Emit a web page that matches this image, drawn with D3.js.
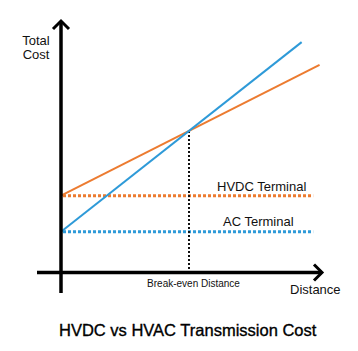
<!DOCTYPE html>
<html>
<head>
<meta charset="utf-8">
<script src="https://cdn.jsdelivr.net/npm/d3@7"></script>
<style>
    body { margin: 0; background: #fff; }
    text { font-family: "Liberation Sans", Arial, sans-serif; fill: #111; }
</style>
</head>
<body>
<div id="chart"></div>
<script>
// Cost curves (abstract units)
const acDistance = [0, 9.4];
const acCost = [1.7, 9.6];
const dcDistance = [0, 10.1];
const dcCost = [3.2, 8.65];

// terminal (fixed) costs, drawn as dotted lines
const terminalNames = ["HVDC Terminal", "AC Terminal"];
const terminalCost = [3.2, 1.7];
const terminalEnd = 9.85;

const breakEvenDistance = 5;
const breakEvenCost = 5.9;

const orange = "#ec7b30";
const blue = "#2e9ad8";

const width = 358, height = 351;

const svg = d3.select("#chart")
    .append("svg")
    .attr("width", width)
    .attr("height", height);

const x = d3.scaleLinear().domain([0, 10]).range([61, 317]);
const y = d3.scaleLinear().domain([0, 10]).range([272.5, 32.5]);

const line = d3.line()
    .x(d => x(d[0]))
    .y(d => y(d[1]));

// terminal cost dotted lines
svg.selectAll(".terminal")
    .data(terminalCost)
    .enter()
    .append("line")
    .attr("class", "terminal")
    .attr("x1", x(0) + 2)
    .attr("x2", x(terminalEnd))
    .attr("y1", d => y(d))
    .attr("y2", d => y(d))
    .attr("stroke", (d, i) => i == 0 ? orange : blue)
    .attr("stroke-width", 3)
    .attr("stroke-dasharray", "3,2");

// break-even marker
svg.append("line")
    .attr("x1", x(breakEvenDistance))
    .attr("x2", x(breakEvenDistance))
    .attr("y1", y(breakEvenCost))
    .attr("y2", y(0))
    .attr("stroke", "#111")
    .attr("stroke-width", 2)
    .attr("stroke-dasharray", "2,2");

// cost lines
svg.append("path")
    .datum(d3.zip(dcDistance, dcCost))
    .attr("d", line)
    .attr("fill", "none")
    .attr("stroke", orange)
    .attr("stroke-width", 2);

svg.append("path")
    .datum(d3.zip(acDistance, acCost))
    .attr("d", line)
    .attr("fill", "none")
    .attr("stroke", blue)
    .attr("stroke-width", 2);

// axes with open arrow heads
const axes = svg.append("g")
    .attr("stroke", "#000")
    .attr("stroke-width", 3.5)
    .attr("fill", "none");

axes.append("line")
    .attr("x1", x(0)).attr("x2", x(0))
    .attr("y1", 293).attr("y2", 21);
axes.append("path")
    .attr("stroke-width", 3)
    .attr("d", `M${x(0) - 8},${29} L${x(0)},${21} L${x(0) + 8},${29}`);

axes.append("line")
    .attr("x1", 37).attr("x2", 322)
    .attr("y1", y(0)).attr("y2", y(0));
axes.append("path")
    .attr("stroke-width", 3)
    .attr("d", `M${314},${y(0) - 8} L${322},${y(0)} L${314},${y(0) + 8}`);

// labels
svg.append("text")
    .attr("x", 36).attr("y", 44.5)
    .attr("text-anchor", "middle")
    .style("font-size", "13px")
    .text("Total");
svg.append("text")
    .attr("x", 36).attr("y", 59)
    .attr("text-anchor", "middle")
    .style("font-size", "13px")
    .text("Cost");

svg.append("text")
    .attr("x", 290).attr("y", 294)
    .style("font-size", "13px")
    .text("Distance");

svg.append("text")
    .attr("x", 193.5).attr("y", 287)
    .attr("text-anchor", "middle")
    .style("font-size", "10px")
    .text("Break-even Distance");

const labelX = [217, 223];
const labelY = [191, 226];
svg.selectAll(".termLabel")
    .data(terminalNames)
    .enter()
    .append("text")
    .attr("class", "termLabel")
    .attr("x", (d, i) => labelX[i])
    .attr("y", (d, i) => labelY[i])
    .style("font-size", "13px")
    .text(d => d);

// title, slightly heavier than the labels
svg.append("text")
    .attr("x", 59).attr("y", 336)
    .style("font-size", "16.5px")
    .style("fill", "#000")
    .style("stroke", "#000")
    .style("stroke-width", "0.35px")
    .text("HVDC vs HVAC Transmission Cost");
</script>
</body>
</html>
